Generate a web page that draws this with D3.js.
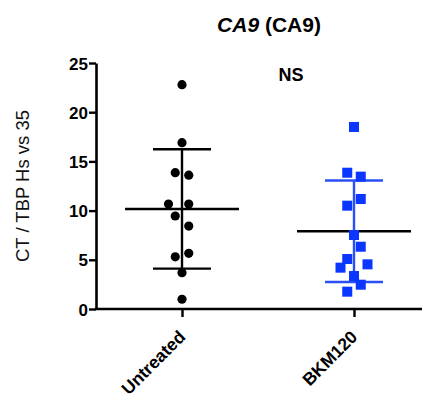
<!DOCTYPE html>
<html>
<head>
<meta charset="utf-8">
<script src="https://cdn.jsdelivr.net/npm/d3@7"></script>
<style>
  html, body { margin: 0; padding: 0; background: #fff; }
  svg { display: block; font-family: "Liberation Sans", Arial, sans-serif; }
</style>
</head>
<body>
<svg id="chart" width="440" height="403"></svg>
<script>
// ---- data ----
const categories = ["Untreated", "BKM120"];
const untreatedValues = [22.8, 16.9, 13.85, 13.6, 10.67, 10.67, 9.45, 8.43, 5.66, 5.3, 3.69, 0.99];
const untreatedSlots  = [0, 0, -0.5, 0.5, -1, 0.5, -0.5, 0.5, 0.5, -0.5, 0, 0];
const bkmValues = [18.5, 13.85, 13.45, 11.18, 10.5, 7.52, 6.33, 5.08, 4.54, 4.2, 3.35, 2.47, 1.76];
const bkmSlots  = [0, -0.5, 0.5, 0.5, -0.5, 0, 0.5, -0.5, 1, -1, 0, 0.5, -0.5];
const yTicks = [0, 5, 10, 15, 20, 25];
const titleItalic = "CA9";
const titleRest = " (CA9)";
const annotation = "NS";
const yLabel = "CT / TBP Hs vs 35";

// ---- layout ----
const svg = d3.select("#chart");
const font = '"Liberation Sans", Arial, sans-serif';
const axisLeftX = 96, axisBottomY = 309, axisTopY = 63, axisRightEnd = 422;
const y = d3.scaleLinear().domain([0, 25]).range([axisBottomY, axisTopY]);
const x = d3.scalePoint().domain(categories).range([axisLeftX, 440]).padding(0.5);
const slotStep = 13.5;

const blue = "#0a36ff";
const blueBar = "#2a50f5";

// title
const title = svg.append("text")
  .attr("x", 269).attr("y", 32)
  .attr("text-anchor", "middle")
  .attr("font-size", 21).attr("font-weight", "bold")
  .attr("fill", "#000");
title.append("tspan").attr("font-style", "italic").text(titleItalic);
title.append("tspan").text(titleRest);

// NS
svg.append("text")
  .attr("x", 291).attr("y", 81)
  .attr("text-anchor", "middle")
  .attr("font-size", 18).attr("font-weight", "bold")
  .text(annotation);

// y axis label
svg.append("text")
  .attr("transform", "translate(29,186) rotate(-90)")
  .attr("text-anchor", "middle")
  .attr("font-size", 18.5)
  .attr("fill", "#111")
  .text(yLabel);

// y axis
const gy = svg.append("g")
  .attr("transform", `translate(${axisLeftX},0)`)
  .call(d3.axisLeft(y).tickValues(yTicks).tickSize(7).tickSizeOuter(0).tickPadding(1).tickFormat(d3.format("d")));
gy.select(".domain").attr("stroke", "#000").attr("stroke-width", 2.6);
gy.selectAll(".tick line").attr("stroke", "#000").attr("stroke-width", 2.4);
gy.selectAll(".tick text")
  .attr("font-family", font).attr("font-size", 17).attr("font-weight", "bold")
  .attr("fill", "#000").attr("dy", "0.36em");

// x axis
const gx = svg.append("g")
  .attr("transform", `translate(0,${axisBottomY})`)
  .call(d3.axisBottom(x).tickSize(8).tickSizeOuter(0));
gx.select(".domain")
  .attr("d", `M${axisLeftX - 1.3},0H${axisRightEnd}`)
  .attr("stroke", "#000").attr("stroke-width", 2.6);
gx.selectAll(".tick line").attr("stroke", "#000").attr("stroke-width", 2.4);
gx.selectAll(".tick text")
  .attr("font-family", font).attr("font-size", 17.5).attr("font-weight", "bold")
  .attr("fill", "#000")
  .attr("text-anchor", "end")
  .attr("dy", 0)
  .attr("y", 0)
  .attr("transform", "translate(4,29) rotate(-45)");

// ---- error bars (mean ± SD) ----
const groups = [
  { cat: "Untreated", values: untreatedValues, slots: untreatedSlots, color: "#000", barColor: "#000", shape: "circle" },
  { cat: "BKM120", values: bkmValues, slots: bkmSlots, color: blue, barColor: blueBar, shape: "square" }
];

groups.forEach(g => {
  const cx = x(g.cat);
  const m = d3.mean(g.values);
  const sd = d3.deviation(g.values);
  const bars = svg.append("g");
  bars.append("line")
    .attr("x1", cx).attr("x2", cx)
    .attr("y1", y(m + sd)).attr("y2", y(m - sd))
    .attr("stroke", g.barColor).attr("stroke-width", 2.4);
  [m + sd, m - sd].forEach(v => {
    bars.append("line")
      .attr("x1", cx - 29).attr("x2", cx + 29)
      .attr("y1", y(v)).attr("y2", y(v))
      .attr("stroke", g.barColor).attr("stroke-width", 2.4);
  });
  bars.append("line")
    .attr("x1", cx - 57).attr("x2", cx + 57)
    .attr("y1", y(m)).attr("y2", y(m))
    .attr("stroke", "#000").attr("stroke-width", 2.6);
});

// ---- points ----
groups.forEach(g => {
  const cx = x(g.cat);
  const pts = g.values.map((v, i) => ({ v, s: g.slots[i] }));
  if (g.shape === "circle") {
    svg.append("g").selectAll("circle").data(pts).join("circle")
      .attr("cx", d => cx + d.s * slotStep)
      .attr("cy", d => y(d.v))
      .attr("r", 4.6)
      .attr("fill", g.color);
  } else {
    const size = 10;
    svg.append("g").selectAll("rect").data(pts).join("rect")
      .attr("x", d => cx + d.s * slotStep - size / 2)
      .attr("y", d => y(d.v) - size / 2)
      .attr("width", size).attr("height", size)
      .attr("fill", g.color);
  }
});
</script>
</body>
</html>
